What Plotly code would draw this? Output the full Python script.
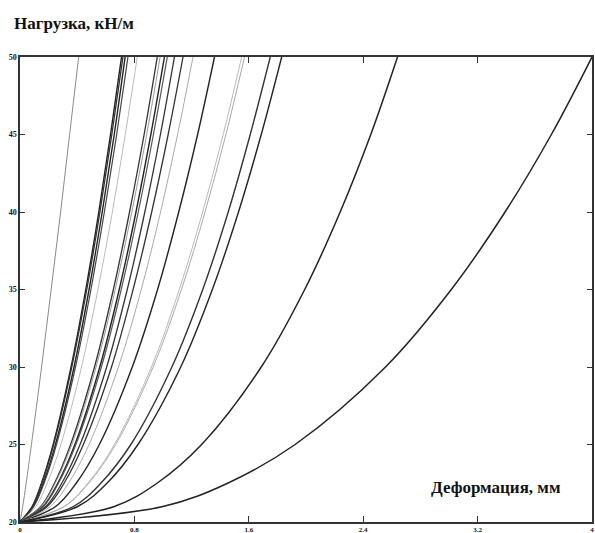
import plotly.graph_objects as go

# Load levels (kN/m) at which deformation was read for every curve
load = [20, 21, 22.5, 25, 30, 35, 40, 45, 50]

# Deformation (mm) of each curve at the load levels above
curves = [
    ([0, 0.019, 0.043, 0.080, 0.151, 0.218, 0.284, 0.347, 0.41], "#8a8a8a", 1.0),
    ([0, 0.085, 0.150, 0.232, 0.357, 0.460, 0.551, 0.633, 0.71], "#222222", 1.4),
    ([0, 0.086, 0.153, 0.235, 0.362, 0.467, 0.559, 0.642, 0.72], "#333333", 1.3),
    ([0, 0.093, 0.163, 0.248, 0.378, 0.483, 0.575, 0.659, 0.735], "#222222", 1.4),
    ([0, 0.096, 0.168, 0.255, 0.388, 0.496, 0.590, 0.676, 0.755], "#444444", 1.2),
    ([0, 0.111, 0.190, 0.286, 0.430, 0.545, 0.646, 0.736, 0.82], "#bbbbbb", 1.0),
    ([0, 0.145, 0.241, 0.354, 0.521, 0.653, 0.766, 0.868, 0.96], "#333333", 1.3),
    ([0, 0.148, 0.246, 0.362, 0.532, 0.666, 0.782, 0.886, 0.98], "#999999", 1.0),
    ([0, 0.161, 0.264, 0.384, 0.558, 0.694, 0.811, 0.915, 1.01], "#222222", 1.4),
    ([0, 0.164, 0.269, 0.391, 0.569, 0.708, 0.827, 0.933, 1.03], "#555555", 1.2),
    ([0, 0.180, 0.292, 0.420, 0.606, 0.750, 0.873, 0.982, 1.08], "#333333", 1.3),
    ([0, 0.190, 0.308, 0.443, 0.640, 0.791, 0.921, 1.036, 1.14], "#333333", 1.3),
    ([0, 0.212, 0.339, 0.483, 0.688, 0.848, 0.983, 1.102, 1.21], "#aaaaaa", 1.0),
    ([0, 0.249, 0.393, 0.555, 0.785, 0.962, 1.110, 1.242, 1.36], "#222222", 1.4),
    ([0, 0.307, 0.474, 0.660, 0.919, 1.114, 1.277, 1.421, 1.55], "#bbbbbb", 1.0),
    ([0, 0.311, 0.480, 0.669, 0.931, 1.129, 1.294, 1.440, 1.57], "#aaaaaa", 1.0),
    ([0, 0.373, 0.565, 0.775, 1.062, 1.278, 1.456, 1.610, 1.75], "#333333", 1.4),
    ([0, 0.403, 0.608, 0.825, 1.124, 1.345, 1.528, 1.687, 1.83], "#222222", 1.4),
    ([0, 0.660, 0.958, 1.270, 1.687, 1.991, 2.239, 2.453, 2.64], "#222222", 1.5),
    ([0, 1.000, 1.452, 1.924, 2.556, 3.016, 3.392, 3.716, 4.0], "#222222", 1.5),
]

x_ticks = [0, 0.8, 1.6, 2.4, 3.2, 4]
x_ticklabels = ["0", "0.8", "1.6", "2.4", "3.2", "4"]
y_ticks = [20, 25, 30, 35, 40, 45, 50]

fig = go.Figure()
for xs, color, width in curves:
    fig.add_trace(go.Scatter(
        x=xs, y=load, mode="lines",
        line=dict(color=color, width=width, shape="spline", smoothing=1.0),
        showlegend=False, hoverinfo="skip",
    ))

axis_common = dict(
    showgrid=False, zeroline=False, automargin=False,
    showline=True, linecolor="#333333", linewidth=1.5,
    mirror="ticks", ticks="inside", tickcolor="#333333", tickwidth=1.3,
)

fig.update_layout(
    width=595, height=533,
    margin=dict(l=20, r=3, t=57, b=11, autoexpand=False),
    paper_bgcolor="white", plot_bgcolor="white",
    xaxis=dict(range=[0, 4], tickvals=x_ticks, ticktext=x_ticklabels,
               ticklen=6,
               tickfont=dict(family="Liberation Serif", size=7, color="#111111", weight="bold"),
               **axis_common),
    yaxis=dict(range=[20, 50], tickvals=y_ticks, ticklen=5,
               tickfont=dict(family="Liberation Serif", size=8, color="#111111", weight="bold"),
               **axis_common),
    annotations=[
        dict(text="<b>Нагрузка, кН/м</b>", xref="paper", yref="paper",
             x=-0.014, y=1.071, xanchor="left", yanchor="middle", showarrow=False,
             font=dict(family="Liberation Serif", size=17, color="#111111")),
        dict(text="<b>Деформация, мм</b>", xref="x", yref="y",
             x=3.80, y=22.2, xanchor="right", yanchor="middle", showarrow=False,
             font=dict(family="Liberation Serif", size=17, color="#111111")),
    ],
)

fig.write_html("out.html",
               config={"displayModeBar": False},
               post_script="document.body.style.margin='0';document.body.style.padding='0';")
